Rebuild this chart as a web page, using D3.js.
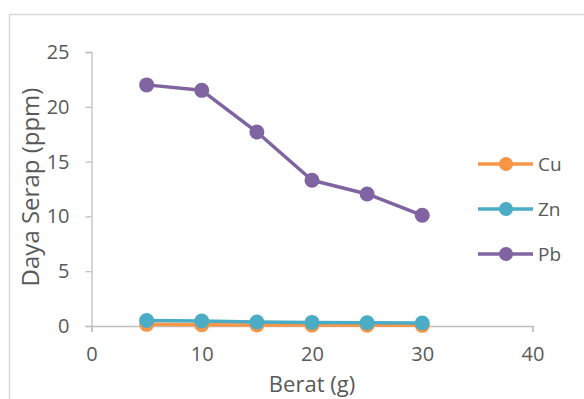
<!DOCTYPE html>
<html>
<head>
<meta charset="utf-8">
<script src="https://cdn.jsdelivr.net/npm/d3@7"></script>
<style>
  html, body { margin: 0; padding: 0; background: #fff; }
  svg { display: block; }
  text { font-family: "Open Sans", sans-serif; fill: #595959; }
</style>
</head>
<body>
<svg id="chart" width="584" height="399"></svg>
<script>
const xValues = [5, 10, 15, 20, 25, 30];
const cuValues = [0.15, 0.12, 0.1, 0.08, 0.07, 0.06];
const znValues = [0.5, 0.46, 0.37, 0.33, 0.3, 0.27];
const pbValues = [22.0, 21.5, 17.7, 13.3, 12.05, 10.1];
const seriesNames = ["Cu", "Zn", "Pb"];
const seriesColors = ["#F79646", "#4BACC6", "#8064A2"];
const xTicks = [0, 10, 20, 30, 40];
const yTicks = [0, 5, 10, 15, 20, 25];
const xTitle = "Berat (g)";
const yTitle = "Daya Serap (ppm)";

const series = [cuValues, znValues, pbValues].map((vals, i) => ({
  name: seriesNames[i], color: seriesColors[i],
  points: xValues.map((x, j) => ({ x, y: vals[j] }))
}));

const svg = d3.select("#chart");

// outer frame
svg.append("rect")
  .attr("x", 9.5).attr("y", 14.5).attr("width", 700).attr("height", 500)
  .attr("fill", "none").attr("stroke", "#d9d9d9").attr("stroke-width", 1.5);

const x = d3.scaleLinear().domain([0, 40]).range([91.5, 532.5]);
const y = d3.scaleLinear().domain([0, 25]).range([326, 52]);
const axisColor = "#bfbfbf";

// x axis
const xAxis = svg.append("g").attr("transform", `translate(0,${y(0)})`)
  .call(d3.axisBottom(x).tickValues(xTicks).tickSize(6).tickPadding(15).tickFormat(d3.format("d")));
xAxis.select(".domain").attr("stroke", axisColor).attr("stroke-width", 1.3);
xAxis.selectAll(".tick line").attr("stroke", axisColor).attr("stroke-width", 1.3);
xAxis.selectAll(".tick text").style("font-family", "Open Sans").attr("font-size", 20).attr("fill", "#595959");

// y axis
const yAxis = svg.append("g").attr("transform", `translate(${x(0)},0)`)
  .call(d3.axisLeft(y).tickValues(yTicks).tickSize(6).tickPadding(16).tickFormat(d3.format("d")));
yAxis.select(".domain").attr("stroke", axisColor).attr("stroke-width", 1.3);
yAxis.selectAll(".tick line").attr("stroke", axisColor).attr("stroke-width", 1.3);
yAxis.selectAll(".tick text").style("font-family", "Open Sans").attr("font-size", 20).attr("fill", "#595959");

// titles
svg.append("text").attr("x", 312).attr("y", 392)
  .attr("text-anchor", "middle").attr("font-size", 22).text(xTitle);
svg.append("text").attr("transform", "translate(39,187) rotate(-90)")
  .attr("text-anchor", "middle").attr("font-size", 24).text(yTitle);

// series
const line = d3.line().x(d => x(d.x)).y(d => y(d.y));
series.forEach(s => {
  const g = svg.append("g");
  g.append("path").datum(s.points).attr("d", line)
    .attr("fill", "none").attr("stroke", s.color).attr("stroke-width", 3.5)
    .attr("stroke-linejoin", "round");
  g.selectAll("circle").data(s.points).join("circle")
    .attr("cx", d => x(d.x)).attr("cy", d => y(d.y)).attr("r", 7.5)
    .attr("fill", s.color);
});

// legend
const legendY = [164, 209, 254];
series.forEach((s, i) => {
  const g = svg.append("g").attr("transform", `translate(0,${legendY[i]})`);
  g.append("line").attr("x1", 478).attr("x2", 533).attr("y1", 0).attr("y2", 0)
    .attr("stroke", s.color).attr("stroke-width", 3.5);
  g.append("circle").attr("cx", 506).attr("cy", 0).attr("r", 7).attr("fill", s.color);
  g.append("text").attr("x", 538).attr("y", 0).attr("dy", "0.35em")
    .attr("font-size", 19).text(s.name);
});
</script>
</body>
</html>
